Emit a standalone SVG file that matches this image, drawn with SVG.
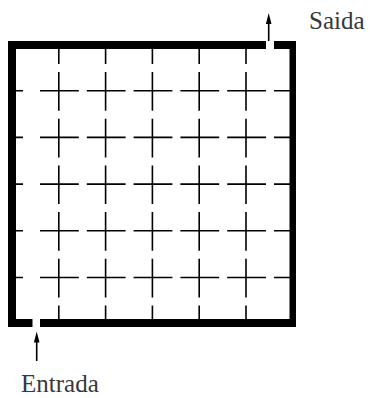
<svg xmlns="http://www.w3.org/2000/svg" width="370" height="398" viewBox="0 0 370 398">
<style>
.wall{fill:#000}
.grid{stroke:#000;stroke-width:1.6;fill:none}
.arr{stroke:#000;stroke-width:1.6}
.head{fill:#000}
.lbl{font-family:"Liberation Serif","Times New Roman",serif;font-size:25px;fill:#383838}
</style>
<rect width="370" height="398" fill="#fff"/>
<g id="maze">
<rect class="wall" x="8" y="41" width="8" height="286"/>
<rect class="wall" x="8" y="41" width="258" height="8"/>
<rect class="wall" x="274" y="41" width="22" height="8"/>
<rect class="wall" x="289.5" y="41" width="6.5" height="286"/>
<rect class="wall" x="8" y="319" width="24.5" height="8"/>
<rect class="wall" x="40" y="319" width="256" height="8"/>
</g>
<g id="grid" class="grid">
<path d="M58.8,49V319M105.6,49V319M152.4,49V319M199.2,49V319M246,49V319" stroke-dasharray="15 8 38.7 8 38.7 8 38.7 8 38.7 8 38.7 8 100"/>
<path d="M16,90.7H290M16,137.4H290M16,184.1H290M16,230.8H290M16,277.5H290" stroke-dasharray="7 17 38.8 8 38.8 8 38.8 8 38.8 8 38.8 8 100"/>
</g>
<g id="connectors">
<line class="arr" x1="268.7" y1="41" x2="268.7" y2="22"/>
<polygon class="head" points="268.7,13 271.5,24 265.9,24"/>
<line class="arr" x1="36.7" y1="361" x2="36.7" y2="340"/>
<polygon class="head" points="36.7,331.5 39.5,342.5 33.9,342.5"/>
</g>
<g id="labels">
<text class="lbl" x="309" y="29">Saida</text>
<text class="lbl" x="21" y="392">Entrada</text>
</g>
</svg>
